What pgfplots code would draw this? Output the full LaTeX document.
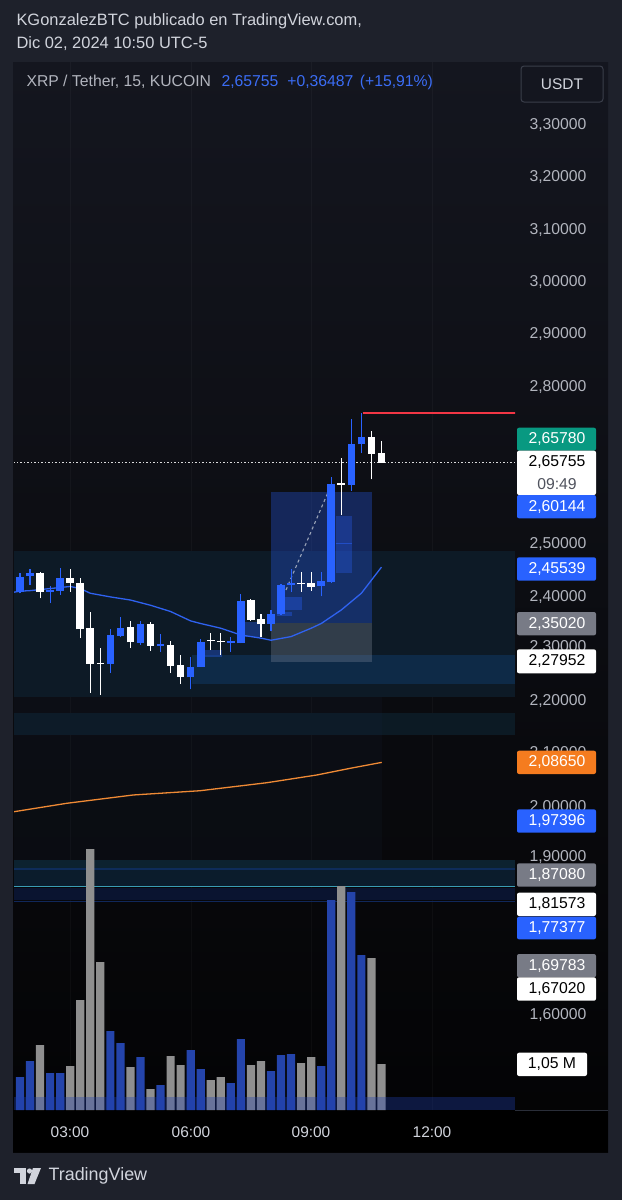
\documentclass[border=0pt]{standalone}
\usepackage{fontspec}
\setmainfont{Liberation Sans}
\usepackage{pgfplots}
\usepackage{pgfplotstable}
\pgfplotsset{compat=1.18}

\definecolor{outerbg}{HTML}{1E212B}
\definecolor{paneTop}{HTML}{14161F}
\definecolor{paneMid}{HTML}{0A0D14}
\definecolor{paneBot}{HTML}{030304}
\definecolor{upblue}{HTML}{2962FF}
\definecolor{volblue}{HTML}{2444AB}
\definecolor{volgray}{HTML}{8F8F8F}
\definecolor{emablue}{HTML}{2F62F0}
\definecolor{orangeL}{HTML}{F08A35}
\definecolor{orangeB}{HTML}{F57C1F}
\definecolor{tealB}{HTML}{089981}
\definecolor{grayB}{HTML}{787B86}
\definecolor{redline}{HTML}{F23645}
\definecolor{tickc}{HTML}{B2B5BE}
\definecolor{txt}{HTML}{D1D4DC}
\definecolor{hdrblue}{HTML}{3B6DF5}
\definecolor{sepc}{HTML}{2A2E39}
\definecolor{zoneA}{HTML}{0D1A26}
\definecolor{zoneB}{HTML}{0E2A47}
\definecolor{zoneC}{HTML}{0C1A24}
\definecolor{zoneD}{HTML}{1B2A45}
\definecolor{vz1}{HTML}{0C2230}
\definecolor{vz2}{HTML}{0B1C2C}
\definecolor{vz3}{HTML}{0A1430}
\definecolor{vl1}{HTML}{0E2C5A}
\definecolor{vl2}{HTML}{3A9DB5}
\definecolor{vl3}{HTML}{10275A}
\definecolor{posgray}{HTML}{9098A8}
\definecolor{dashc}{HTML}{B0B8C8}
\definecolor{vband}{HTML}{2040B0}
\definecolor{usdtb}{HTML}{3A3E4A}
\definecolor{timec}{HTML}{50535E}

% up (blue) candles: k open high low close volume(M)
\pgfplotstableread{
k o h l c v
0 2.406 2.442 2.403 2.435 0.753
1 2.436 2.449 2.419 2.441 1.119
3 2.406 2.416 2.384 2.409 0.845
4 2.408 2.451 2.400 2.433 0.845
9 2.268 2.334 2.251 2.323 1.804
10 2.322 2.358 2.319 2.337 1.530
12 2.308 2.349 2.304 2.344 1.210
14 2.302 2.325 2.291 2.306 0.571
17 2.242 2.280 2.219 2.262 1.370
18 2.262 2.315 2.262 2.310 0.936
21 2.308 2.320 2.291 2.311 0.616
22 2.307 2.402 2.307 2.388 1.621
25 2.344 2.370 2.330 2.363 0.890
26 2.363 2.421 2.362 2.419 1.256
27 2.419 2.449 2.406 2.422 1.279
30 2.416 2.443 2.397 2.427 1.005
31 2.425 2.625 2.423 2.612 4.795
33 2.610 2.736 2.599 2.688 4.977
34 2.688 2.748 2.671 2.703 3.539
}\upT

% down (white) candles
\pgfplotstableread{
k o h l c v
2 2.441 2.444 2.393 2.406 1.484
5 2.432 2.449 2.406 2.423 1.005
6 2.423 2.432 2.317 2.334 2.511
7 2.336 2.368 2.212 2.268 5.959
8 2.270 2.298 2.208 2.268 3.379
11 2.338 2.349 2.299 2.309 0.982
13 2.344 2.347 2.292 2.302 0.479
15 2.304 2.312 2.250 2.264 1.233
16 2.266 2.285 2.229 2.243 1.027
19 2.313 2.326 2.294 2.311 0.685
20 2.312 2.326 2.285 2.310 0.753
23 2.390 2.392 2.350 2.352 1.027
24 2.353 2.363 2.320 2.344 1.119
28 2.423 2.444 2.406 2.421 1.073
29 2.422 2.444 2.408 2.415 1.210
32 2.614 2.663 2.553 2.611 5.114
35 2.702 2.714 2.621 2.670 3.470
36 2.671 2.695 2.653 2.653 1.050
}\dnT

\pgfplotstableread{
k v
-0.6 2.405
0 2.407
1 2.408
3 2.412
5 2.416
6 2.412
7 2.403
9 2.396
11 2.390
13 2.380
15 2.368
17 2.350
18 2.345
20 2.336
22 2.323
24 2.317
25 2.313
27 2.320
29 2.336
30 2.345
32 2.371
34 2.403
36 2.453
}\emaT

\pgfplotstableread{
k v
-0.6 1.9845
4.65 2.0006
11.25 2.0165
17.93 2.0247
24.57 2.0400
29.55 2.0548
32.87 2.0676
36.03 2.0790
}\maT

\pgfplotsset{tvaxis/.style={at={(14bp,-1110bp)}, anchor=south west,
  width=501bp, height=1048bp, scale only axis,
  xmin=-0.5976, xmax=49.303, hide axis, clip=true},
  candle/.style 2 args={draw=none, mark=none, forget plot,
    error bars/.cd, y dir=plus, y explicit, error mark=none,
    error bar style={draw=#1, line width=#2, solid}}}

\newcommand{\plab}[2]{\node[tickc, font=\fontsize{15.8}{16}\selectfont] at (558,-#1) {#2};}
\newcommand{\blab}[5]{% y1 y2 fill textcolor text
  \fill[#3, rounded corners=2bp] (517,-#1) rectangle (596,-#2);
  \node[#4, font=\fontsize{15.8}{16}\selectfont] at (557,{-(#1+#2)/2}) {#5};}

\begin{document}
\begin{tikzpicture}[x=1bp,y=1bp]
% backgrounds
\fill[outerbg] (0,0) rectangle (622,-1200);
\shade[top color=paneTop, middle color=paneMid, bottom color=paneBot] (13,-62) rectangle (608,-1152);
\fill[black] (13,-1110) rectangle (608,-1152);
\draw[sepc, line width=0.8bp] (515,-1110.5) -- (608,-1110.5);

% faint vertical grid
\foreach \gx in {70,191,311,432} \draw[white, opacity=0.03, line width=1bp] (\gx,-62) -- (\gx,-1110);

% zones
\fill[zoneA] (14,-551) rectangle (515,-697);
\fill[zoneB] (192,-655) rectangle (515,-684);
\fill[zoneC] (14,-713) rectangle (515,-735);
\fill[zoneD, opacity=0.12] (14,-697) rectangle (382,-860);
% volume-pane zones
\fill[vz1] (14,-860) rectangle (515,-868);
\fill[vz2] (14,-870) rectangle (515,-886);
\fill[vz3] (14,-888) rectangle (515,-900);
\draw[vl1, line width=1.2bp] (14,-869) -- (515,-869);
\draw[vl2, line width=1.3bp] (14,-886.7) -- (515,-886.7);
\draw[vl3, line width=1.2bp] (14,-901.5) -- (515,-901.5);

% position tool
\fill[upblue, opacity=0.30] (271,-492) rectangle (372,-623);
\fill[posgray, opacity=0.28] (271,-623) rectangle (372,-662);
% small boxes
\fill[upblue, opacity=0.35] (205,-650) rectangle (222,-657);
\fill[upblue, opacity=0.35] (245,-622) rectangle (260,-637);
\fill[upblue, opacity=0.35] (277,-612) rectangle (292,-616);
\fill[upblue, opacity=0.35] (285,-597) rectangle (302,-610);
\fill[upblue, opacity=0.30] (336,-516) rectangle (352,-573);
\draw[upblue, opacity=0.5, line width=1bp] (336,-543) -- (352,-543);
\draw[dashc, opacity=0.85, line width=1.1bp, dash pattern=on 3bp off 3bp] (286,-590) -- (329,-490);

% volume
\begin{axis}[tvaxis, ymin=0, ymax=23.927]
\addplot[ybar, bar width=8.2bp, bar shift=0pt, fill=volblue, draw=none] table[x=k, y=v] {\upT};
\addplot[ybar, bar width=8.2bp, bar shift=0pt, fill=volgray, draw=none] table[x=k, y=v] {\dnT};
\end{axis}
\fill[vband, opacity=0.35] (14,-1097) rectangle (515,-1110);

% price
\begin{axis}[tvaxis, ymin=1.41303, ymax=3.42069]
\addplot[orangeL, line width=1.3bp] table[x=k, y=v] {\maT};
\addplot[emablue, line width=1.3bp] table[x=k, y=v] {\emaT};
\addplot[draw=redline, line width=1.6bp, mark=none] coordinates {(34.2,2.748) (50,2.748)};
\addplot[color=white, opacity=0.85, line width=1bp, dash pattern=on 1.5bp off 2bp] coordinates {(-1,2.653) (50,2.653)};
% wicks
\addplot[candle={upblue}{1.1bp}] table[x=k, y=l, y error expr=\thisrow{h}-\thisrow{l}] {\upT};
\addplot[candle={white}{1.1bp}] table[x=k, y=l, y error expr=\thisrow{h}-\thisrow{l}] {\dnT};
% bodies
\addplot[candle={upblue}{7.6bp}] table[x=k, y=o, y error expr=\thisrow{c}-\thisrow{o}] {\upT};
\addplot[candle={white}{7.6bp}] table[x=k, y=c, y error expr=\thisrow{o}-\thisrow{c}] {\dnT};
\end{axis}

% header texts
\node[txt, anchor=west, font=\fontsize{16.5}{18}\selectfont] at (13,-21) {KGonzalezBTC publicado en TradingView.com,};
\node[txt, anchor=west, font=\fontsize{16.5}{18}\selectfont] at (13,-44) {Dic 02, 2024 10:50 UTC-5};
\node[tickc, anchor=west, font=\fontsize{15.8}{16}\selectfont] at (23,-82) {XRP / Tether, 15, KUCOIN};
\node[hdrblue, anchor=west, font=\fontsize{15.8}{16}\selectfont] at (218,-82) {2,65755\hspace{9bp}+0,36487\hspace{2bp} (+15,91\%)};
\draw[usdtb, fill=paneTop, rounded corners=3bp, line width=1bp] (521,-66) rectangle (603,-102);
\node[txt, font=\fontsize{15.5}{16}\selectfont] at (562,-84) {USDT};

% price scale
\plab{125}{3,30000}
\plab{177}{3,20000}
\plab{230}{3,10000}
\plab{282}{3,00000}
\plab{334}{2,90000}
\plab{387}{2,80000}
\plab{544}{2,50000}
\plab{597}{2,40000}
\plab{647}{2,30000}
\plab{701}{2,20000}
\plab{753}{2,10000}
\plab{807}{2,00000}
\plab{857}{1,90000}
\plab{1015}{1,60000}
\blab{427.7}{450.7}{tealB}{white}{2,65780}
\fill[white, rounded corners=2bp] (517,-450.7) rectangle (596,-495);
\node[black, font=\fontsize{15.8}{16}\selectfont] at (557,-462) {2,65755};
\node[timec, font=\fontsize{15.8}{16}\selectfont] at (557,-484) {09:49};
\blab{495}{518.3}{upblue}{white}{2,60144}
\blab{557.3}{580.7}{upblue}{white}{2,45539}
\blab{612}{635.3}{grayB}{white}{2,35020}
\blab{649.3}{673.3}{white}{black}{2,27952}
\blab{750.7}{774}{orangeB}{white}{2,08650}
\blab{809.3}{832.7}{upblue}{white}{1,97396}
\blab{863.3}{886.7}{grayB}{white}{1,87080}
\blab{892.7}{916}{white}{black}{1,81573}
\blab{916.7}{939.3}{upblue}{white}{1,77377}
\blab{954}{977.3}{grayB}{white}{1,69783}
\blab{977.3}{1000.7}{white}{black}{1,67020}
\fill[white, rounded corners=2bp] (517,-1052.7) rectangle (587,-1076);
\node[black, font=\fontsize{15.8}{16}\selectfont] at (552,-1064.3) {1,05 M};

% time axis
\foreach \tx/\tl in {70/03:00,191/06:00,311/09:00,432/12:00}
  \node[txt, font=\fontsize{15.5}{16}\selectfont] at (\tx,-1132) {\tl};

% TradingView logo
\fill[txt] (14,-1168) rectangle (26,-1172.5);
\fill[txt] (20,-1168) rectangle (26,-1184);
\fill[txt] (29.5,-1171) circle (2.6);
\fill[txt] (33,-1168) -- (41,-1168) -- (34.5,-1184) -- (27.5,-1184) -- cycle;
\node[txt, anchor=west, font=\fontsize{18}{20}\selectfont] at (45,-1176) {TradingView};

\pgfresetboundingbox
\useasboundingbox (0,0) rectangle (622,-1200);
\end{tikzpicture}
\end{document}
